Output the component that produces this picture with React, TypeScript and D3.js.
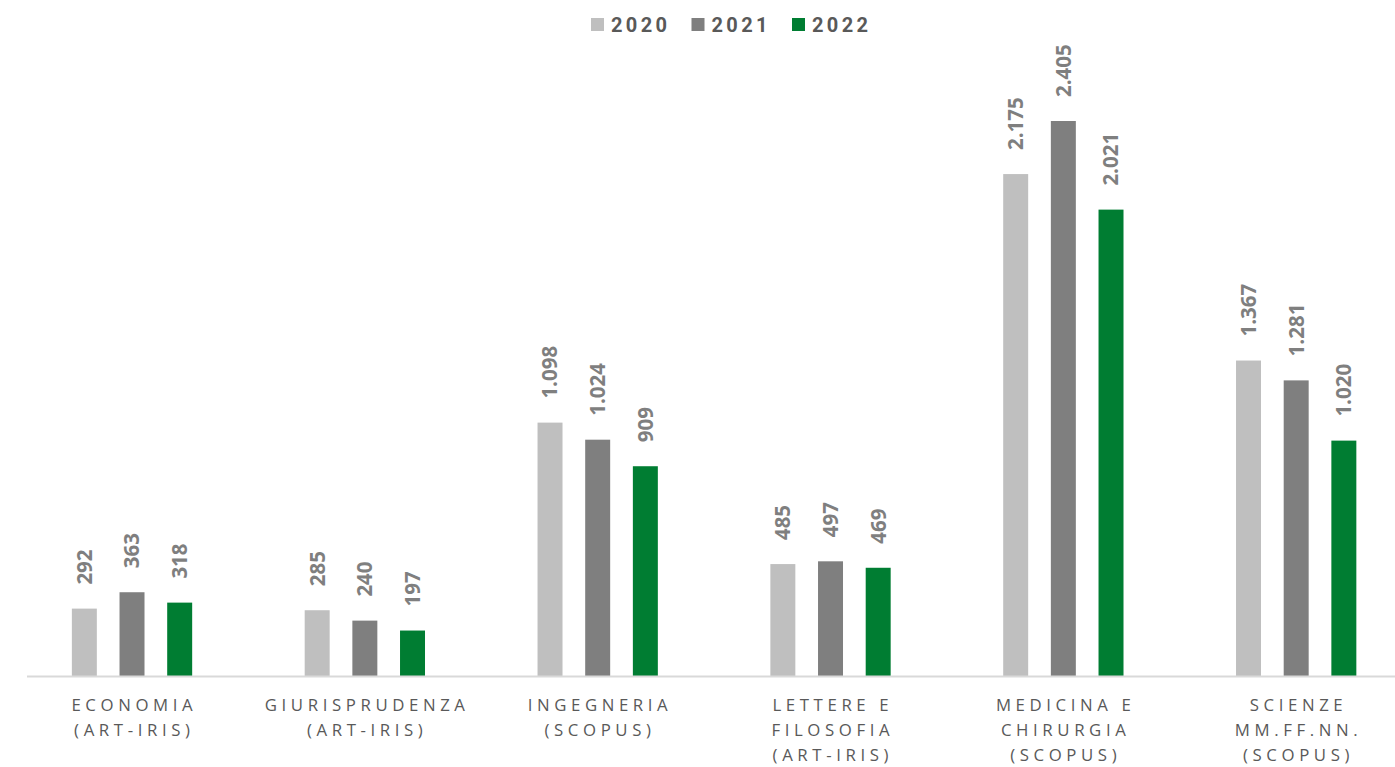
import React from "react";
import * as d3 from "d3";

const categories = [
  "ECONOMIA\n(ART-IRIS)",
  "GIURISPRUDENZA\n(ART-IRIS)",
  "INGEGNERIA\n(SCOPUS)",
  "LETTERE E\nFILOSOFIA\n(ART-IRIS)",
  "MEDICINA E\nCHIRURGIA\n(SCOPUS)",
  "SCIENZE\nMM.FF.NN.\n(SCOPUS)",
];
const years = ["2020", "2021", "2022"];
const values2020 = [292, 285, 1098, 485, 2175, 1367];
const values2021 = [363, 240, 1024, 497, 2405, 1281];
const values2022 = [318, 197, 909, 469, 2021, 1020];
const seriesValues = [values2020, values2021, values2022];
const colors = ["#bfbfbf", "#7f7f7f", "#007d32"];

const W = 1395;
const H = 767;
const baseY = 676;

const itLocale = d3.formatLocale({ decimal: ",", thousands: ".", grouping: [3], currency: ["", "€"] });
const fmt = itLocale.format(",");

export default function App() {
  const x = d3.scaleBand<string>().domain(categories).range([15.6, 1412.6]).padding(0);
  const inner = d3
    .scaleBand<string>()
    .domain(years)
    .range([-71.5, 71.5])
    .paddingInner(0.476)
    .paddingOuter(0.238);
  const y = d3.scaleLinear().domain([0, 2405]).range([baseY, 121]);

  const legendStart = 591;
  const legendStep = 100.5;

  return (
    <div style={{ position: "absolute", left: 0, top: 0 }}>
      <svg width={W} height={H} style={{ display: "block", background: "#fff" }}>
        {/* legend */}
        {years.map((yr, i) => (
          <g key={yr} transform={`translate(${legendStart + i * legendStep},0)`}>
            <rect x={0} y={18} width={13} height={13} fill={colors[i]} />
            <text
              x={20}
              y={32}
              fontFamily="Roboto, 'Open Sans', sans-serif"
              fontWeight={700}
              fontSize={20}
              letterSpacing={3.4}
              fill="#595959"
            >
              {yr}
            </text>
          </g>
        ))}

        {/* bars */}
        {categories.map((cat, ci) => {
          const cx = (x(cat) as number) + x.bandwidth() / 2;
          return (
            <g key={cat} transform={`translate(${cx},0)`}>
              {years.map((yr, si) => {
                const v = seriesValues[si][ci];
                const bx = inner(yr) as number;
                const top = y(v);
                return (
                  <g key={yr}>
                    <rect x={bx} y={top} width={inner.bandwidth()} height={baseY - top} fill={colors[si]} />
                    <text
                      transform={`translate(${bx + inner.bandwidth() / 2},${top - 24}) rotate(-90)`}
                      dy="0.36em"
                      textAnchor="start"
                      fontFamily="'Open Sans', sans-serif"
                      fontWeight={700}
                      fontSize={20.5}
                      fill="#7f7f7f"
                    >
                      {fmt(v)}
                    </text>
                  </g>
                );
              })}
              {cat.split("\n").map((line, li) => (
                <text
                  key={li}
                  x={2.3}
                  y={711 + li * 24.8}
                  textAnchor="middle"
                  fontFamily="'Open Sans', sans-serif"
                  fontSize={16.8}
                  letterSpacing={4.6}
                  fill="#595959"
                >
                  {line}
                </text>
              ))}
            </g>
          );
        })}

        {/* axis line */}
        <line x1={27} x2={W} y1={baseY + 0.5} y2={baseY + 0.5} stroke="#d9d9d9" strokeWidth={2} />
      </svg>
    </div>
  );
}
